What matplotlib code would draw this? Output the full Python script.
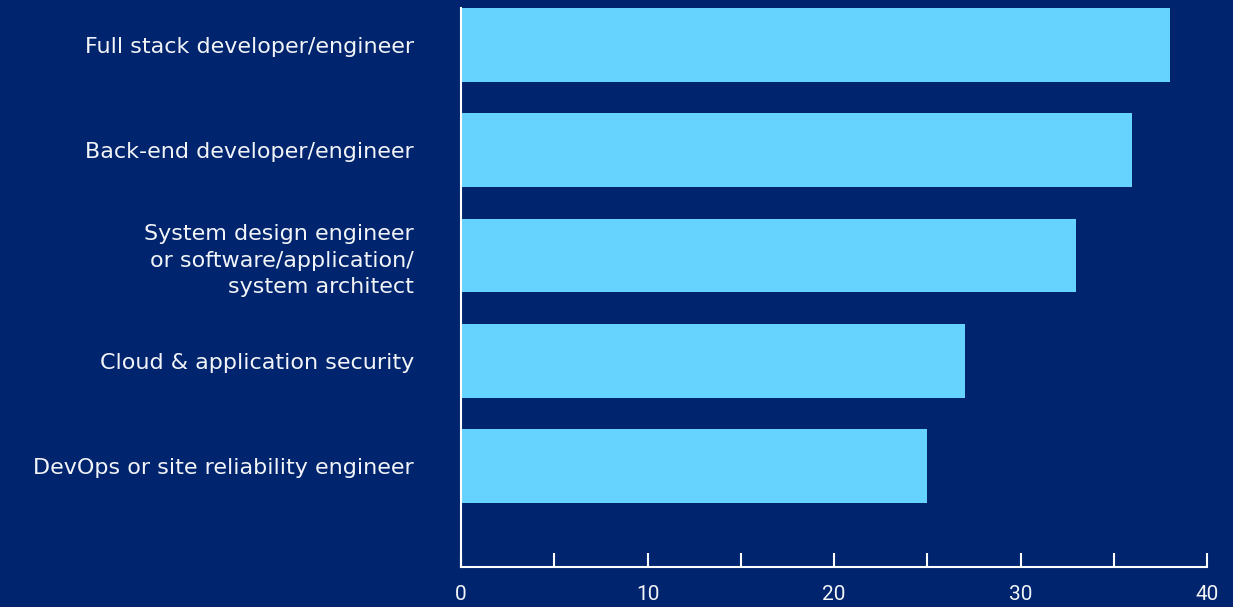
import matplotlib
matplotlib.use("Agg")
import matplotlib.pyplot as plt
from matplotlib.ticker import MultipleLocator

categories = [
    "Full stack developer/engineer",
    "Back-end developer/engineer",
    "System design engineer\nor software/application/\nsystem architect",
    "Cloud & application security",
    "DevOps or site reliability engineer",
]
values = [38, 36, 33, 27, 25]
x_ticks = [0, 10, 20, 30, 40]

BG = "#00256E"
BAR = "#66D3FF"
FG = "white"

plt.rcParams["font.family"] = ["DejaVu Sans"]

fig = plt.figure(figsize=(12.33, 6.07), dpi=100, facecolor=BG)
ax = fig.add_axes([461 / 1233, 1 - 567 / 607, (1207 - 461) / 1233, (567 - 8) / 607])
ax.set_facecolor(BG)

y = list(range(len(categories)))
ax.barh(y, values, height=0.70, color=BAR, zorder=2)

ax.set_xlim(0, 40)
ax.set_ylim(4.96, -0.35)
ax.set_yticks(y)
ax.set_yticklabels(categories, color="#F2F4F8", fontsize=16, linespacing=1.4)
ax.tick_params(axis="y", length=0, pad=34)

ax.set_xticks(x_ticks)
ax.xaxis.set_minor_locator(MultipleLocator(5))
ax.tick_params(axis="x", which="both", direction="in", length=10, width=1.5,
               color=FG, labelcolor="#F2F4F8", pad=13)
for lbl in ax.get_xticklabels():
    lbl.set_fontfamily(["Roboto", "DejaVu Sans"])
    lbl.set_fontsize(15)

for side in ("top", "right"):
    ax.spines[side].set_visible(False)
for side in ("left", "bottom"):
    ax.spines[side].set_color(FG)
    ax.spines[side].set_linewidth(1.5)

fig.savefig("out.png", dpi=100, facecolor=BG)
